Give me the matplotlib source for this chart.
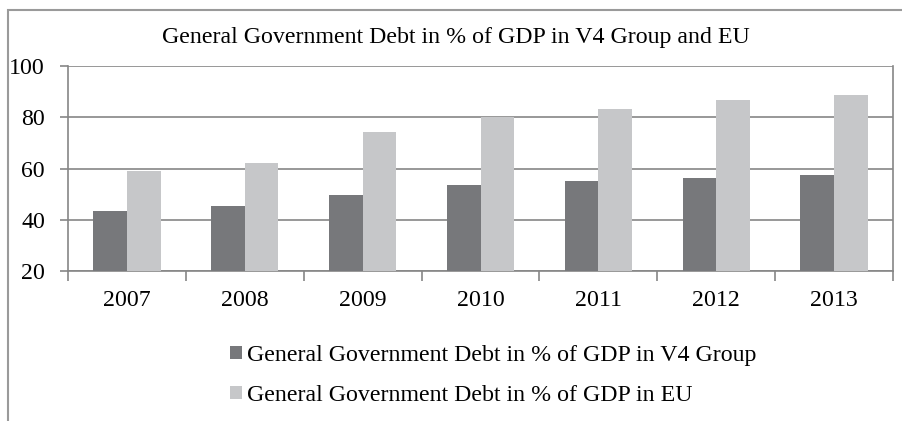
import matplotlib
matplotlib.use("Agg")
import matplotlib.pyplot as plt
import numpy as np
from matplotlib.patches import Rectangle

plt.rcParams['font.family'] = ['Liberation Serif', 'DejaVu Serif']

years = ["2007", "2008", "2009", "2010", "2011", "2012", "2013"]
v4_debt = [43.4, 45.2, 49.8, 53.6, 55.2, 56.4, 57.5]
eu_debt = [58.9, 62.1, 74.4, 80.2, 83.1, 86.7, 88.8]
y_ticks = [20, 40, 60, 80, 100]

title = "General Government Debt in % of GDP in V4 Group and EU"
label_v4 = "General Government Debt in % of GDP in V4 Group"
label_eu = "General Government Debt in % of GDP in EU"

W, H = 902, 421
fig = plt.figure(figsize=(W / 100, H / 100), dpi=100)

# plot area in pixels: left 68, right 893, top 66, bottom 271
ax = fig.add_axes([68 / W, 1 - 271 / H, (893 - 68) / W, (271 - 66) / H])

axis_col = "#868686"
c_v4 = "#77787b"
c_eu = "#c6c7c9"
fs = 17.2

x = np.arange(len(years))
bw = 0.285
ax.bar(x - bw / 2, v4_debt, bw, color=c_v4, label=label_v4, zorder=3)
ax.bar(x + bw / 2, eu_debt, bw, color=c_eu, label=label_eu, zorder=3)

ax.set_xlim(-0.5, len(years) - 0.5)
ax.set_ylim(20, 100)
ax.set_yticks(y_ticks)
ax.set_yticklabels([str(v) for v in y_ticks])
ax.yaxis.grid(True, color=axis_col, linewidth=1.2, zorder=0)

# category ticks between groups, labels centered
ax.set_xticks(np.arange(-0.5, len(years) + 0.5, 1.0))
ax.set_xticklabels([])
ax.set_xticks(x, minor=True)
ax.set_xticklabels(years, minor=True)
ax.tick_params(axis='x', which='major', length=7, width=1.2, color=axis_col, direction='out')
ax.tick_params(axis='x', which='minor', length=0, pad=14, labelsize=fs)
ax.tick_params(axis='y', length=6, width=1.2, color=axis_col, pad=10.5, labelsize=fs)

ax.spines['top'].set_visible(False)
for side in ['left', 'bottom', 'right']:
    ax.spines[side].set_color(axis_col)
    ax.spines[side].set_linewidth(1.2)
ax.set_axisbelow(True)

fig.text(456 / W, 1 - 38 / H, title, ha='center', va='center', fontsize=fs)

leg = fig.legend(loc='upper left', bbox_to_anchor=(230 / W, 1 - 345 / H),
                 frameon=False, fontsize=fs, handlelength=0.5, handleheight=0.5,
                 handletextpad=0.2, labelspacing=0.8, borderaxespad=0, borderpad=0)

# outer chart frame (continues past the right and bottom edges)
fig.patches.append(Rectangle((8 / W, -0.1), 1.2, 1 - 10 / H + 0.1,
                             transform=fig.transFigure, fill=False,
                             edgecolor="#9a9a9a", linewidth=1.5))

fig.savefig("out.png", dpi=100)
